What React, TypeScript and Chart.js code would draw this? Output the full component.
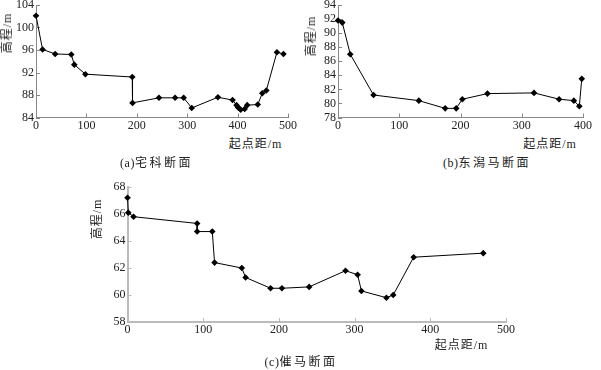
import React, { useEffect, useRef } from "react";
import { Chart, registerables } from "chart.js";

Chart.register(...registerables);

// ---- Data ----
// (a) 宅科断面
const distA = [0, 13, 38, 70, 76, 98, 191, 191.5, 244, 276, 293, 309, 361, 390, 398, 401, 406, 414, 419, 440, 449, 457, 478, 491];
const elevA = [102.1, 96.1, 95.3, 95.2, 93.4, 91.7, 91.2, 86.6, 87.5, 87.5, 87.5, 85.7, 87.6, 87.1, 86.2, 85.8, 85.4, 85.5, 86.2, 86.3, 88.3, 88.8, 95.6, 95.3];
// (b) 东潟马断面
const distB = [0, 7, 20, 58, 132, 175, 193, 203, 244, 320, 361, 385, 394, 398];
const elevB = [91.8, 91.5, 87.0, 81.2, 80.4, 79.3, 79.3, 80.6, 81.4, 81.5, 80.6, 80.4, 79.6, 83.5];
// (c) 催马断面
const distC = [0, 1, 8, 92, 92, 112, 115, 151, 156, 189, 204, 240, 288, 304, 309, 342, 351, 378, 470];
const elevC = [67.2, 66.1, 65.8, 65.3, 64.7, 64.7, 62.4, 62.0, 61.3, 60.5, 60.5, 60.6, 61.8, 61.5, 60.3, 59.8, 60.0, 62.8, 63.1];

// axis ranges: [min, max, step]
const xRangeA = [0, 500, 100];
const yRangeA = [84, 104, 4];
const xRangeB = [0, 400, 100];
const yRangeB = [78, 94, 2];
const xRangeC = [0, 500, 100];
const yRangeC = [58, 68, 2];

const captionA = ["(a)", "宅科断面"];
const captionB = ["(b)", "东潟马断面"];
const captionC = ["(c)", "催马断面"];
const xTitle = "起点距/m";
const yTitle = "高程/m";

const TEXT = "#222";
const FONT = "'Liberation Serif', 'Times New Roman', 'Noto Sans CJK SC', serif";

const inwardTicks = {
  id: "inwardTicks",
  beforeDatasetsDraw(chart: any, _args: any, opts: any) {
    const { ctx, chartArea } = chart;
    const xs = chart.scales.x;
    const ys = chart.scales.y;
    ctx.save();
    ctx.strokeStyle = opts.color || "#888";
    ctx.lineWidth = 1;
    const len = 4;
    xs.ticks.forEach((t: any) => {
      const px = Math.round(xs.getPixelForValue(t.value)) + 0.5;
      ctx.beginPath();
      ctx.moveTo(px, chartArea.bottom);
      ctx.lineTo(px, chartArea.bottom - len);
      ctx.stroke();
    });
    ys.ticks.forEach((t: any) => {
      const py = Math.round(ys.getPixelForValue(t.value)) + 0.5;
      ctx.beginPath();
      ctx.moveTo(chartArea.left, py);
      ctx.lineTo(chartArea.left + len, py);
      ctx.stroke();
    });
    ctx.restore();
  },
};

type PanelProps = {
  dist: number[];
  elev: number[];
  xr: number[];
  yr: number[];
  left: number;
  top: number;
  width: number;
  height: number;
  pad: { left: number; top: number; right: number; bottom: number };
  yAxisW: number;
  xAxisH: number;
  axisColor: string;
  axisWidth: number;
};

function Panel(p: PanelProps) {
  const ref = useRef<HTMLCanvasElement>(null);
  useEffect(() => {
    if (!ref.current) return;
    const tickFont = { family: FONT, size: 12 };
    const chart = new Chart(ref.current, {
      type: "scatter",
      data: {
        datasets: [
          {
            data: p.dist.map((d, i) => ({ x: d, y: p.elev[i] })),
            showLine: true,
            borderColor: "#000",
            borderWidth: 1,
            backgroundColor: "#000",
            pointStyle: "rectRot",
            pointRadius: 3.3,
            pointBorderWidth: 0,
            pointBackgroundColor: "#000",
            clip: false as any,
          },
        ],
      },
      options: {
        animation: false,
        responsive: false,
        maintainAspectRatio: false,
        layout: { padding: p.pad },
        plugins: {
          legend: { display: false },
          tooltip: { enabled: false },
          inwardTicks: { color: p.axisColor },
        } as any,
        scales: {
          x: {
            type: "linear",
            min: p.xr[0],
            max: p.xr[1],
            ticks: { stepSize: p.xr[2], font: tickFont, color: TEXT, padding: 1, maxRotation: 0, autoSkip: false },
            grid: { display: true, drawOnChartArea: false, drawTicks: false },
            border: { display: true, color: p.axisColor, width: p.axisWidth },
            afterFit: (s: any) => {
              s.height = p.xAxisH;
              s.paddingLeft = 0;
              s.paddingRight = 0;
              s.paddingTop = 0;
              s.paddingBottom = 0;
            },
          },
          y: {
            type: "linear",
            min: p.yr[0],
            max: p.yr[1],
            ticks: { stepSize: p.yr[2], font: tickFont, color: TEXT, padding: 2, autoSkip: false },
            grid: { display: true, drawOnChartArea: false, drawTicks: false },
            border: { display: true, color: p.axisColor, width: p.axisWidth },
            afterFit: (s: any) => {
              s.width = p.yAxisW;
              s.paddingLeft = 0;
              s.paddingRight = 0;
              s.paddingTop = 0;
              s.paddingBottom = 0;
            },
          },
        },
      } as any,
      plugins: [inwardTicks],
    });
    return () => chart.destroy();
  }, []);
  return (
    <canvas
      ref={ref}
      width={p.width}
      height={p.height}
      style={{ position: "absolute", left: p.left, top: p.top, width: p.width, height: p.height }}
    />
  );
}

const labelBase: React.CSSProperties = {
  position: "absolute",
  fontFamily: FONT,
  fontSize: 12,
  lineHeight: "14px",
  color: TEXT,
  whiteSpace: "nowrap",
};

function Label(props: { text: string; cx: number; cy: number; rotate?: boolean }) {
  return (
    <div
      style={{
        ...labelBase,
        left: props.cx,
        top: props.cy,
        transform: `translate(-50%, -50%)${props.rotate ? " rotate(-90deg)" : ""}`,
        letterSpacing: "1px",
      }}
    >
      {props.text}
    </div>
  );
}

function Caption(props: { parts: string[]; cx: number; cy: number }) {
  return (
    <div style={{ ...labelBase, left: props.cx, top: props.cy, transform: "translate(-50%, -50%)" }}>
      <span style={{ letterSpacing: "0.5px" }}>{props.parts[0]}</span>
      <span style={{ letterSpacing: "2.5px" }}>{props.parts[1]}</span>
    </div>
  );
}

export default function App() {
  return (
    <div style={{ position: "fixed", left: 0, top: 0, width: 601, height: 370, background: "#fff", overflow: "hidden" }}>
      <Panel
        dist={distA}
        elev={elevA}
        xr={xRangeA}
        yr={yRangeA}
        left={0}
        top={0}
        width={300}
        height={135}
        pad={{ left: 0, top: 5, right: 12, bottom: 0 }}
        yAxisW={36}
        xAxisH={17.5}
        axisColor="#888"
        axisWidth={1}
      />
      <Panel
        dist={distB}
        elev={elevB}
        xr={xRangeB}
        yr={yRangeB}
        left={300}
        top={0}
        width={301}
        height={135}
        pad={{ left: 0, top: 5, right: 18, bottom: 0 }}
        yAxisW={38}
        xAxisH={17.5}
        axisColor="#888"
        axisWidth={1}
      />
      <Panel
        dist={distC}
        elev={elevC}
        xr={xRangeC}
        yr={yRangeC}
        left={60}
        top={180}
        width={480}
        height={160}
        pad={{ left: 30, top: 7, right: 34, bottom: 0 }}
        yAxisW={37.5}
        xAxisH={18}
        axisColor="#bbb"
        axisWidth={2}
      />
      <Label text={yTitle} cx={7} cy={32.5} rotate />
      <Label text={yTitle} cx={311} cy={36} rotate />
      <Label text={yTitle} cx={97} cy={218.5} rotate />
      <Label text={xTitle} cx={255.5} cy={144} />
      <Label text={xTitle} cx={550} cy={144} />
      <Label text={xTitle} cx={461.5} cy={345} />
      <Caption parts={captionA} cx={156.5} cy={163} />
      <Caption parts={captionB} cx={487} cy={163} />
      <Caption parts={captionC} cx={301} cy={362} />
    </div>
  );
}
